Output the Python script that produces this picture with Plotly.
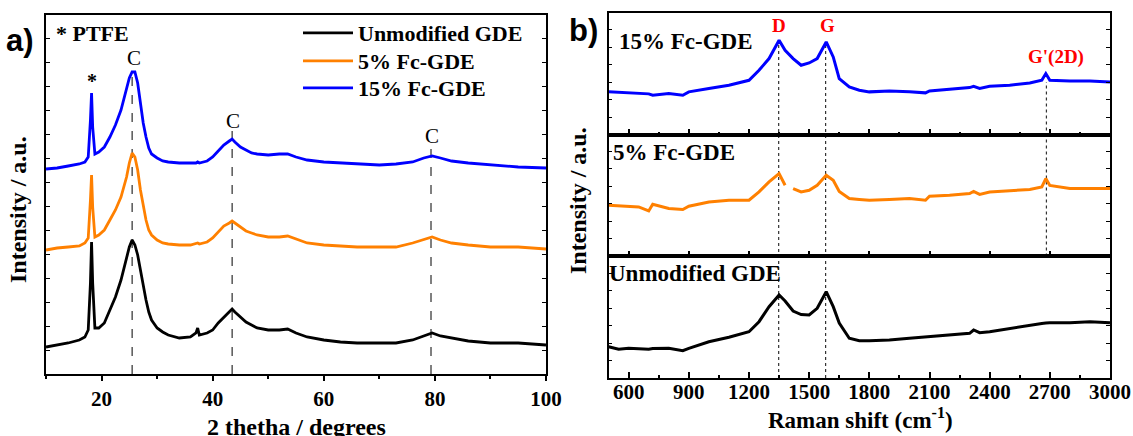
import plotly.graph_objects as go

W, H = 1133, 436

# ---------------- Panel a) XRD data (arbitrary intensity units) ----------------
XRD_2THETA = [10, 12, 14, 16, 17, 17.6, 18.0, 18.2, 18.4, 18.8, 19.5, 20.5, 21.5, 22.5, 23.5,
              24.5, 25.0, 25.5, 26.0, 26.5, 27.0, 27.5, 28.0, 28.5, 29.0, 30, 31, 32, 34, 36,
              37, 37.3, 37.6, 39, 40, 41, 42, 43, 43.5, 44, 45, 46, 47, 48, 50, 52, 53.5, 55,
              57, 60, 63, 66, 70, 73, 76, 78, 79.5, 81, 83, 86, 90, 95, 100]
XRD_UNMOD = [27, 29, 31, 34, 37, 44, 91, 132, 91, 46, 46, 51, 64, 77, 94,
             117, 127, 134, 129, 119, 104, 87, 74, 62, 54, 46, 42, 39, 36, 37,
             41, 46, 39, 41, 44, 51, 57, 62, 65, 62, 57, 52, 49, 46, 44, 44, 45, 41,
             37, 34, 32, 31, 31, 31, 34, 38, 41, 38, 36, 33, 31, 31, 29]
XRD_FC5 = [124, 126, 127, 128, 131, 136, 174, 199, 167, 137, 139, 144, 154, 164, 177,
           197, 211, 221, 217, 204, 184, 167, 154, 144, 139, 134, 131, 130, 129, 129,
           130, 131, 130, 132, 136, 142, 148, 151, 153, 151, 147, 143, 141, 139, 137, 137, 138, 135,
           131, 129, 128, 127, 127, 127, 131, 134, 137, 134, 131, 129, 127, 127, 125]
XRD_FC15 = [205, 206, 208, 210, 212, 217, 254, 281, 247, 220, 222, 227, 237, 249, 264,
            284, 296, 302, 302, 291, 271, 251, 237, 226, 220, 216, 213, 212, 211, 211,
            211, 212, 211, 213, 217, 223, 229, 233, 235, 232, 227, 224, 221, 220, 219, 220, 220, 217,
            214, 212, 211, 210, 209, 210, 212, 216, 218, 216, 213, 211, 209, 207, 206]
XRD_C_PEAKS = [25.5, 43.5, 79.3]
XRD_C_LINE_TOP = [301, 246, 229]
XRD_C_LABEL = [(25.9, 316), (43.6, 253), (79.5, 238)]
PTFE_STAR = (18.3, 293)

# ---------------- Panel b) Raman data (arbitrary units per sub-panel) ----------------
RAMAN_SHIFT = [500, 550, 600, 650, 700, 720, 800, 870, 900, 1000, 1100, 1200, 1250, 1300, 1350,
               1380, 1410, 1420, 1460, 1500, 1540, 1585, 1620, 1650, 1700, 1750, 1800, 1900, 2000, 2080,
               2100, 2200, 2300, 2320, 2350, 2400, 2500, 2600, 2660, 2680, 2700, 2800, 2900, 3000]
RAMAN_FC15 = [43, 42.5, 42, 41.5, 41, 39.6, 41.3, 39.6, 43, 46.3, 49.6, 54.6, 64.6, 76.3, 94.6,
              84.6, 77.9, 76.3, 69.6, 71.9, 76.3, 92.9, 77.9, 56.3, 47.9, 44.6, 43, 43.9, 43, 42,
              43.9, 45.3, 47.3, 48.5, 46.5, 48.6, 49.6, 51.9, 54.6, 61.3, 54.6, 53.9, 53.9, 52.9]
RAMAN_FC5 = [51.2, 50.5, 50.2, 49.5, 45.5, 52.2, 47.9, 46.9, 50.2, 54.5, 56.2, 56.2, 64.5, 74.5, 82.9,
             71.2, None, 67.9, 64.5, 66.2, 71.2, 81.2, 76.2, 65, 57.9, 57, 56.2, 56.9, 57.9, 56.2,
             60.2, 61.2, 62.9, 65, 62, 64.5, 65.5, 66.9, 69.5, 77.9, 71, 67.9, 67.9, 67.9]
RAMAN_UNMOD = [31.3, 28.7, 29.7, 29, 28.7, 29.5, 29.7, 27.3, 29.7, 36.3, 40.7, 46.3, 56.3, 71.3, 83,
               77, 69, 67, 63.5, 63, 69.7, 86.3, 71.3, 55, 39.7, 37.3, 37.3, 38, 39.7, 41,
               42, 43, 44.7, 48, 45.3, 46.3, 49.7, 53, 54.5, 55, 55.3, 55.3, 56.3, 55.3]
RAMAN_BANDS = [("D", 1348), ("G", 1582), ("G'(2D)", 2683)]

SERIES_NAMES = ["Unmodified GDE", "5% Fc-GDE", "15% Fc-GDE"]
COLORS = ["#000000", "#FF8000", "#0000FF"]

SERIF = "Liberation Serif, Times New Roman, serif"
SANS = "Liberation Sans, Arial, sans-serif"


def px(x):
    return x / W


def py(y):
    return 1 - y / H


fig = go.Figure()

# Panel a traces, each with its own one-entry legend (to control row spacing)
LEGEND_IDS = ["legend", "legend2", "legend3"]
for name, col, ys, lg in zip(SERIES_NAMES, COLORS, [XRD_UNMOD, XRD_FC5, XRD_FC15], LEGEND_IDS):
    fig.add_trace(go.Scatter(x=XRD_2THETA, y=ys, mode="lines", name=name, legend=lg,
                             line=dict(color=col, width=2.8), xaxis="x", yaxis="y"))

# Panel b traces
for ys, col, xa, ya in [(RAMAN_UNMOD, COLORS[0], "x2", "y2"),
                        (RAMAN_FC5, COLORS[1], "x3", "y3"),
                        (RAMAN_FC15, COLORS[2], "x4", "y4")]:
    fig.add_trace(go.Scatter(x=RAMAN_SHIFT, y=ys, mode="lines", showlegend=False,
                             connectgaps=False,
                             line=dict(color=col, width=3), xaxis=xa, yaxis=ya))

tickfont = dict(family=SERIF, size=21, color="black", weight="bold")
axline = dict(showline=True, linecolor="black", linewidth=1.5, showgrid=False, zeroline=False,
              automargin=False)

# Geometry (pixels)
a_l, a_r, a_t, a_b = 46, 546, 15, 374
b_l, b_r, b_t, b_b = 608.6, 1110, 13.3, 378
b_h = (b_b - b_t) / 3
b_div1 = b_t + b_h
b_div2 = b_t + 2 * b_h

legend_font = dict(family=SERIF, size=22, color="black", weight="bold")
def legend_box(row_y):
    return dict(x=px(298), y=py(row_y - 21), xanchor="left", yanchor="top",
                bgcolor="rgba(0,0,0,0)", font=legend_font, itemwidth=50)

layout = dict(
    width=W, height=H, margin=dict(l=0, r=0, t=0, b=0, autoexpand=False), autosize=False,
    paper_bgcolor="white", plot_bgcolor="white",
    xaxis=dict(domain=[px(a_l), px(a_r)], range=[10, 100], anchor="y",
               tick0=0, dtick=20, ticks="outside", ticklen=5, tickwidth=1.5, tickcolor="black",
               minor=dict(ticks="outside", ticklen=3, dtick=10, tick0=0, tickcolor="black"),
               tickfont=tickfont, mirror=True, **axline),
    yaxis=dict(domain=[py(a_b), py(a_t)], range=[0, 359], anchor="x",
               showticklabels=False, ticks="inside", ticklen=4, dtick=24, tickcolor="black",
               mirror="ticks", **axline),
    xaxis2=dict(domain=[px(b_l), px(b_r)], range=[500, 3000], anchor="y2",
                tick0=0, dtick=300, ticks="inside", ticklen=6, tickwidth=1.5, tickcolor="black",
                minor=dict(ticks="inside", ticklen=3, dtick=150, tick0=0, tickcolor="black"),
                tickfont=tickfont, mirror=True, ticklabelstandoff=-6, **axline),
    xaxis3=dict(domain=[px(b_l), px(b_r)], range=[500, 3000], anchor="y3", matches="x2",
                tick0=0, dtick=300, ticks="inside", ticklen=6, tickwidth=1.5, tickcolor="black",
                minor=dict(ticks="inside", ticklen=3, dtick=150, tick0=0, tickcolor="black"),
                showticklabels=False, mirror=True, **axline),
    xaxis4=dict(domain=[px(b_l), px(b_r)], range=[500, 3000], anchor="y4", matches="x2",
                tick0=0, dtick=300, ticks="inside", ticklen=6, tickwidth=1.5, tickcolor="black",
                minor=dict(ticks="inside", ticklen=3, dtick=150, tick0=0, tickcolor="black"),
                showticklabels=False, mirror=True, **axline),
    yaxis2=dict(domain=[py(b_b), py(b_div2)], range=[0, b_h], anchor="x2",
                showticklabels=False, ticks="inside", ticklen=4, dtick=17.5, tickcolor="black",
                mirror="ticks", **axline),
    yaxis3=dict(domain=[py(b_div2), py(b_div1)], range=[0, b_h], anchor="x3",
                showticklabels=False, ticks="inside", ticklen=4, dtick=17.5, tickcolor="black",
                mirror="ticks", **axline),
    yaxis4=dict(domain=[py(b_div1), py(b_t)], range=[0, b_h], anchor="x4",
                showticklabels=False, ticks="inside", ticklen=4, dtick=17.5, tickcolor="black",
                mirror="ticks", **axline),
    showlegend=True,
    legend=legend_box(33),
    legend2=legend_box(61),
    legend3=legend_box(88),
)
fig.update_layout(**layout)

shapes = []
# dashed lines in panel a
for xc, top in zip(XRD_C_PEAKS, XRD_C_LINE_TOP):
    shapes.append(dict(type="line", xref="x", yref="y", x0=xc, x1=xc, y0=0, y1=top,
                       line=dict(color="black", width=1, dash="dash"), layer="below"))
# dotted lines in panel b
for lab, xv in RAMAN_BANDS:
    if lab == "G'(2D)":
        y0, y1 = py(b_div2), py(82)
    else:
        y0, y1 = py(b_b), py(42)
    shapes.append(dict(type="line", xref="x2", yref="paper", x0=xv, x1=xv, y0=y0, y1=y1,
                       line=dict(color="#333333", width=1.2, dash="dot"), layer="below"))
fig.update_layout(shapes=shapes)

ann = []
def txt(text, x, y, size, xref="paper", yref="paper", family=SERIF, color="black",
        xanchor="center", yanchor="middle", angle=0):
    ann.append(dict(text=text, x=x, y=y, xref=xref, yref=yref, showarrow=False,
                    font=dict(family=family, size=size, color=color),
                    xanchor=xanchor, yanchor=yanchor, textangle=angle))

# Panel labels
txt("<b>a)</b>", px(20), py(40), 31, family=SANS)
txt("<b>b)</b>", px(583), py(30), 31, family=SANS)
# Axis titles
txt("<b>Intensity / a.u.</b>", px(18), py(210), 24, angle=-90)
txt("<b>Intensity / a.u.</b>", px(578), py(201), 24, angle=-90)
txt("<b>2 thetha / degrees</b>", px(296), py(427), 24)
txt("<b>Raman shift (cm<sup>-1</sup>)</b>", px(860), py(418), 23)
# Panel a annotations
txt("<b>* PTFE</b>", px(54), py(33), 22, xanchor="left")
txt("<b>*</b>", PTFE_STAR[0], PTFE_STAR[1], 20, xref="x", yref="y")
for (cx, cy) in XRD_C_LABEL:
    txt("C", cx, cy, 21, xref="x", yref="y")
# Panel b labels
txt("<b>15% Fc-GDE</b>", px(617), py(42), 23, xanchor="left")
txt("<b>5% Fc-GDE</b>", px(611), py(152), 23, xanchor="left")
txt("<b>Unmodified GDE</b>", px(607), py(273), 23, xanchor="left")
txt("<b>D</b>", 1350, py(25), 19, xref="x2", color="#FF0000")
txt("<b>G</b>", 1589, py(25), 19, xref="x2", color="#FF0000")
txt("<b>G'(2D)</b>", 2733, py(57), 19, xref="x2", color="#FF0000")

fig.update_layout(annotations=ann)
fig.write_html("out.html", config={"displayModeBar": False},
               post_script="document.body.style.margin='0';document.body.style.overflow='hidden';")
